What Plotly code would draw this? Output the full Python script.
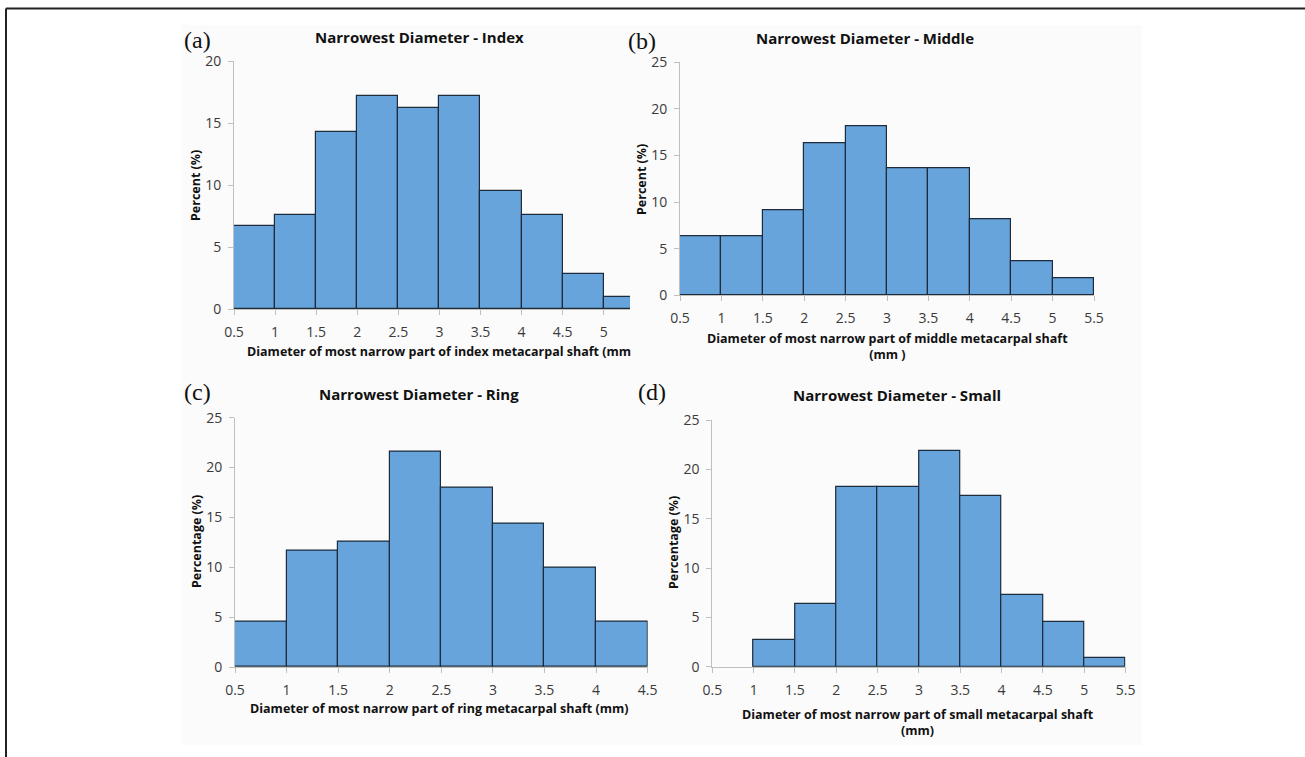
import plotly.graph_objects as go

# ---------------- data ----------------
bin_edges_a = [0.5, 1.0, 1.5, 2.0, 2.5, 3.0, 3.5, 4.0, 4.5, 5.0]
pct_index = [6.67, 7.62, 14.29, 17.14, 16.19, 17.14, 9.52, 7.62, 2.86, 0.95]

bin_edges_b = [0.5, 1.0, 1.5, 2.0, 2.5, 3.0, 3.5, 4.0, 4.5, 5.0]
pct_middle = [6.36, 6.36, 9.09, 16.36, 18.18, 13.64, 13.64, 8.18, 3.64, 1.82]

bin_edges_c = [0.5, 1.0, 1.5, 2.0, 2.5, 3.0, 3.5, 4.0]
pct_ring = [4.50, 11.71, 12.61, 21.62, 18.02, 14.41, 9.91, 4.50]

bin_edges_d = [0.5, 1.0, 1.5, 2.0, 2.5, 3.0, 3.5, 4.0, 4.5, 5.0]
pct_small = [0.0, 2.73, 6.36, 18.18, 18.18, 21.82, 17.27, 7.27, 4.55, 0.91]

xticks_a = [0.5, 1, 1.5, 2, 2.5, 3, 3.5, 4, 4.5, 5]
xticks_b = [0.5, 1, 1.5, 2, 2.5, 3, 3.5, 4, 4.5, 5, 5.5]
xticks_c = [0.5, 1, 1.5, 2, 2.5, 3, 3.5, 4, 4.5]
xticks_d = [0.5, 1, 1.5, 2, 2.5, 3, 3.5, 4, 4.5, 5, 5.5]

titles = ["Narrowest Diameter - Index", "Narrowest Diameter - Middle",
          "Narrowest Diameter - Ring", "Narrowest Diameter - Small"]
ytitles = ["Percent (%)", "Percent (%)", "Percentage (%)", "Percentage (%)"]
xtitles = ["Diameter of most narrow part of index metacarpal shaft (mm",
           "Diameter of most narrow part of middle metacarpal shaft<br>(mm )",
           "Diameter of most narrow part of ring metacarpal shaft (mm)",
           "Diameter of most narrow part of small metacarpal shaft<br>(mm)"]
letters = ["(a)", "(b)", "(c)", "(d)"]

W, H = 1305, 757


def px(x):
    return x / W


def py(y):
    return 1 - y / H


BAR_FILL = "#68a4dc"
BAR_LINE = "#1e2b3a"
AXIS_COL = "#bfbfbf"
TICK_FONT = dict(family="Open Sans", size=14, color="#3a3a3a")

fig = go.Figure()

panels = [
    # edges, values, xticks, xrange, x-domain px, y-domain px (top, bottom), yrange, dtick
    (bin_edges_a, pct_index, xticks_a, [0.5, 5.32], (234, 630), (61, 309), [0, 20], 5),
    (bin_edges_b, pct_middle, xticks_b, [0.5, 5.5], (680, 1094), (62.3, 295.3), [0, 25], 5),
    (bin_edges_c, pct_ring, xticks_c, [0.5, 4.5], (235, 647.6), (417.7, 667), [0, 25], 5),
    (bin_edges_d, pct_small, xticks_d, [0.5, 5.5], (712.3, 1125.6), (420, 666.7), [0, 25], 5),
]

layout_axes = {}
for i, (edges, vals, xt, xr, xd, yd, yr, dt) in enumerate(panels):
    n = i + 1
    xa = "x" if n == 1 else f"x{n}"
    ya = "y" if n == 1 else f"y{n}"
    centers = [e + 0.25 for e in edges]
    line_w = [1.2 if v > 0 else 0 for v in vals]
    fig.add_trace(go.Bar(
        x=centers, y=vals, width=0.5, xaxis=xa, yaxis=ya,
        marker=dict(color=BAR_FILL, line=dict(color=BAR_LINE, width=line_w)),
        showlegend=False, cliponaxis=True,
    ))
    xkey = "xaxis" if n == 1 else f"xaxis{n}"
    ykey = "yaxis" if n == 1 else f"yaxis{n}"
    layout_axes[xkey] = dict(
        domain=[px(xd[0]), px(xd[1])], range=xr, anchor=ya,
        tickvals=xt, ticktext=[f"{v:g}" for v in xt], automargin=False,
        showgrid=False, zeroline=False, showline=True, linecolor=AXIS_COL, linewidth=1,
        ticks="outside", ticklen=5, tickcolor=AXIS_COL, tickfont=TICK_FONT,
        ticklabelstandoff=5, fixedrange=True,
    )
    layout_axes[ykey] = dict(
        domain=[py(yd[1]), py(yd[0])], range=yr, anchor=xa, dtick=dt, automargin=False,
        showgrid=False, zeroline=False, showline=True, linecolor=AXIS_COL, linewidth=1,
        ticks="outside", ticklen=5, tickcolor=AXIS_COL, tickfont=TICK_FONT,
        ticklabelstandoff=4, fixedrange=True,
    )

fig.update_layout(template="none")
fig.update_layout(**layout_axes)

annotations = []
# titles
title_pos = [(419, 37), (865, 38), (419, 394), (897, 395)]
for t, (x, y) in zip(titles, title_pos):
    annotations.append(dict(text=f"<b>{t}</b>", x=px(x), y=py(y), xref="paper", yref="paper",
                            showarrow=False, xanchor="center", yanchor="middle",
                            font=dict(family="Open Sans", size=15, color="#111111")))
# panel letters
letter_pos = [(182, 40), (626, 41), (182, 392), (636, 392)]
for t, (x, y) in zip(letters, letter_pos):
    annotations.append(dict(text=t, x=px(x), y=py(y), xref="paper", yref="paper",
                            showarrow=False, xanchor="left", yanchor="middle",
                            font=dict(family="Liberation Serif", size=24, color="#111111")))
# y titles
ytitle_pos = [(196, 186), (641, 180), (196, 542), (673, 543)]
for t, (x, y) in zip(ytitles, ytitle_pos):
    annotations.append(dict(text=f"<b>{t}</b>", x=px(x), y=py(y), xref="paper", yref="paper",
                            showarrow=False, xanchor="center", yanchor="middle", textangle=-90,
                            font=dict(family="Open Sans", size=12.5, color="#111111")))
# x titles
xtitle_specs = [(245, 351, "left"), (887, 346, "center"), (248, 708, "left"), (918, 722, "center")]
for t, (x, y, anc) in zip(xtitles, xtitle_specs):
    annotations.append(dict(text=f"<b>{t}</b>", x=px(x), y=py(y), xref="paper", yref="paper",
                            showarrow=False, xanchor=anc, yanchor="middle", align="center",
                            font=dict(family="Open Sans", size=12.5, color="#111111")))

shapes = [
    # faint panel backdrop
    dict(type="rect", xref="paper", yref="paper", x0=px(181), x1=px(1142), y0=py(745), y1=py(25),
         fillcolor="#fbfbfb", line=dict(width=0), layer="below"),
    # outer frame (top and left)
    dict(type="line", xref="paper", yref="paper", x0=px(6), x1=1, y0=py(8.5), y1=py(8.5),
         line=dict(color="#222222", width=2)),
    dict(type="line", xref="paper", yref="paper", x0=px(6), x1=px(6), y0=py(8.5), y1=0,
         line=dict(color="#222222", width=2)),
]

fig.update_layout(
    width=W, height=H, margin=dict(l=0, r=0, t=0, b=0, pad=0, autoexpand=False),
    paper_bgcolor="white", plot_bgcolor="rgba(0,0,0,0)",
    annotations=annotations, shapes=shapes, bargap=0,
)

fig.write_html("out.html", config={"displayModeBar": False},
               post_script="document.body.style.margin='0';document.body.style.overflow='hidden';")
